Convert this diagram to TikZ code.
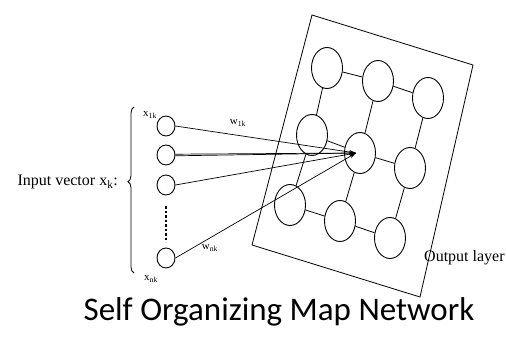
\documentclass[tikz,border=0pt]{standalone}
\usepackage{fontspec}
\setmainfont{Liberation Serif}
\newfontfamily\titlefont{Carlito}
\usetikzlibrary{decorations.pathreplacing,arrows.meta,shapes.geometric}
\begin{document}
\begin{tikzpicture}[x=1pt,y=-1pt,
  inode/.style={draw,ellipse,minimum width=18pt,minimum height=20pt,inner sep=0pt,line width=0.9pt},
  onode/.style={draw,ellipse,minimum width=31pt,minimum height=41pt,inner sep=0pt,line width=0.9pt,fill=white},
  link/.style={line width=0.8pt},
  wire/.style={line width=0.7pt},
  lbl/.style={font=\fontsize{16}{17}\selectfont,inner sep=0pt},
  sml/.style={font=\fontsize{11}{12}\selectfont,inner sep=0pt}]
\useasboundingbox (0,0) rectangle (506,340);
% output layer frame
\coordinate (r1) at (312,15);
\coordinate (r2) at (473,65);
\coordinate (r3) at (420,297);
\coordinate (r4) at (252,245);
\draw[link] (r1) -- (r2) -- (r3) -- (r4) -- cycle;
% output grid
\node[onode] (a1) at (327,68) {};
\node[onode] (a2) at (378,81) {};
\node[onode] (a3) at (428,98) {};
\node[onode] (b1) at (312,135) {};
\node[onode] (b2) at (360,153) {};
\node[onode] (b3) at (410,168) {};
\node[onode] (c1) at (290,205) {};
\node[onode] (c2) at (340,221) {};
\node[onode] (c3) at (390,238) {};
\draw[link] (a1) -- (a2) (a2) -- (a3)
  (b1) -- (b2) (b2) -- (b3)
  (c1) -- (c2) (c2) -- (c3)
  (a1) -- (b1) (b1) -- (c1)
  (a2) -- (b2) (b2) -- (c2)
  (a3) -- (b3) (b3) -- (c3);
% input nodes
\node[inode] (i1) at (166,126) {};
\node[inode] (i2) at (166,155) {};
\node[inode] (i3) at (166,185) {};
\node[inode] (i4) at (166,258) {};
\coordinate (d1) at (166,206);
\coordinate (d2) at (166,242);
\draw[line width=1.4pt,dash pattern=on 2.5pt off 2pt] (d1) -- (d2);
% connections
\coordinate (conv) at (356,153);
\draw[wire,-{Stealth[length=7pt,width=4pt]}] (i1.east) -- (conv);
\draw[wire,-{Stealth[length=7pt,width=4pt]}] ([yshift=-0.8pt]i2.east) -- (conv);
\draw[wire] ([yshift=0.8pt]i2.east) -- (conv);
\draw[wire,-{Stealth[length=7pt,width=4pt]}] (i3.east) -- (conv);
\draw[wire,-{Stealth[length=7pt,width=4pt]}] (i4.east) -- (conv);
% brace
\coordinate (bb) at (134,273);
\coordinate (bt) at (134,107);
\draw[line width=0.8pt,decorate,decoration={brace,amplitude=6pt,aspect=0.55}] (bb) -- (bt);
% labels
\node[lbl,anchor=east] (inv) at (118,182) {Input vector x\textsubscript{k}:};
\node[sml] (x1) at (150,115) {x\textsubscript{1k}};
\node[sml] (xn) at (151,279) {x\textsubscript{nk}};
\node[sml] (w1) at (238,123) {w\textsubscript{1k}};
\node[sml] (wn) at (210,248) {w\textsubscript{nk}};
\node[lbl,anchor=west] (ol) at (424,258) {Output layer};
\node[font=\titlefont\fontsize{33}{35}\selectfont,inner sep=0pt] (title) at (279,312) {Self Organizing Map Network};
\end{tikzpicture}
\end{document}
